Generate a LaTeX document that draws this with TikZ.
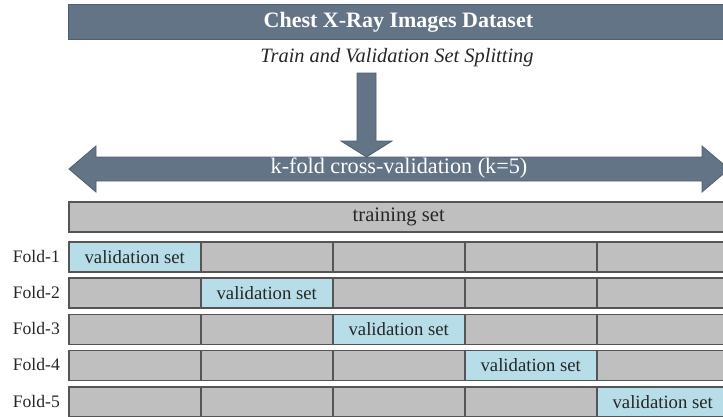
\documentclass[tikz,border=0pt]{standalone}
\usepackage{fontspec}
\setmainfont{Liberation Serif}
\definecolor{slate}{RGB}{100,116,135}
\definecolor{slateedge}{RGB}{80,95,112}
\definecolor{cellgray}{RGB}{191,191,191}
\definecolor{edgegray}{RGB}{85,85,85}
\definecolor{valblue}{RGB}{183,222,232}
\definecolor{txt}{RGB}{38,38,38}
\begin{document}
\begin{tikzpicture}[x=1pt,y=-1pt,
  cell/.style={draw=edgegray, line width=1.5pt, fill=cellgray, minimum width=132pt, minimum height=30pt, inner sep=0pt, anchor=north west, font=\fontsize{18.7}{20}\selectfont, text=txt},
  val/.style={cell, fill=valblue},
  foldlabel/.style={anchor=east, font=\fontsize{17.6}{20}\selectfont, text=txt, inner sep=0pt},
  banner/.style={fill=slate, draw=slateedge, line width=0.8pt}]
\useasboundingbox (0,0) rectangle (723,416);
\clip (0,0) rectangle (723,416);
% title
\node[banner, minimum width=660pt, minimum height=35pt, anchor=north west, inner sep=0pt, text=white, font=\fontsize{22}{24}\selectfont\bfseries] (title) at (68,4) {Chest X-Ray Images Dataset};
\node[font=\fontsize{20.4}{22}\selectfont\itshape, text=txt, inner sep=0pt] (sub) at (397,58) {Train and Validation Set Splitting};
% down arrow
\coordinate (dtop) at (366.5,73);
\coordinate (dtip) at (366.5,157);
\draw[banner] ([xshift=-9.5pt]dtop) -- ([xshift=9.5pt]dtop) -- (376,141) -- (392,141) -- (dtip) -- (341,141) -- (357,141) -- cycle;
% double arrow
\coordinate (ltip) at (69,169);
\coordinate (rtip) at (729,169);
\draw[banner] (ltip) -- (96,146) -- (96,157) -- (702,157) -- (702,146) -- (rtip) -- (702,192) -- (702,181) -- (96,181) -- (96,192) -- cycle;
\node[text=white, font=\fontsize{22.2}{24}\selectfont, inner sep=0pt] (kfold) at (399,168) {k-fold cross-validation (k=5)};
% training set
\node[cell, minimum width=660pt, font=\fontsize{20.6}{22}\selectfont] (train) at (68,201) {training set};
% folds
\foreach \i in {1,...,5}{
  \pgfmathsetmacro{\yy}{241+36.25*(\i-1)}
  \node[foldlabel] (f\i) at (60,{\yy+15}) {Fold-\i};
  \foreach \j in {1,...,5}{
    \ifnum\i=\j
      \node[val] (c\i\j) at ({68+132*(\j-1)},\yy) {validation set};
    \else
      \node[cell] (c\i\j) at ({68+132*(\j-1)},\yy) {};
    \fi
  }
}
\end{tikzpicture}
\end{document}
